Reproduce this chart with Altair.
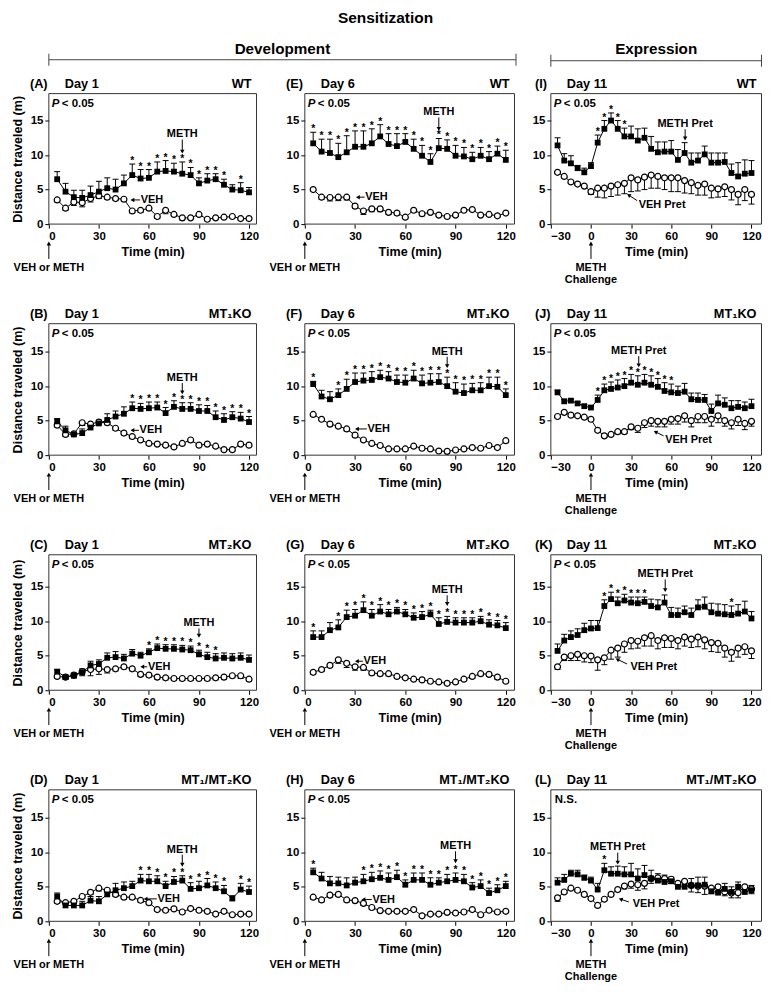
import math
import altair as alt
import pandas as pd

FONT = "Liberation Sans"
INK = "black"
FRAME = "#333333"

# ---------------- time points and ticks ----------------
T_DEV = [5, 10, 15, 20, 25, 30, 35, 40, 45, 50, 55, 60, 65, 70, 75, 80, 85, 90, 95, 100, 105, 110, 115, 120]
T_EXP = [-25, -20, -15, -10, -5, 0, 5, 10, 15, 20, 25, 30, 35, 40, 45, 50, 55, 60, 65, 70, 75, 80, 85, 90, 95, 100, 105, 110, 115, 120]
DEV_TICKS = [0, 30, 60, 90, 120]
EXP_TICKS = [-30, 0, 30, 60, 90, 120]
Y_TICKS = [0, 5, 10, 15]

# ---------------- data (mean, one-sided SEM) ----------------
A_METH = [6.5, 4.7, 3.9, 3.8, 4.2, 4.7, 5.2, 5.0, 5.9, 7.1, 6.6, 6.7, 7.6, 7.7, 7.6, 7.3, 7.1, 5.9, 6.3, 6.5, 5.7, 5.0, 4.9, 4.6]
A_METH_ERR = [1.1, 1.2, 1.0, 1.1, 1.3, 1.5, 1.5, 1.5, 1.2, 1.6, 1.3, 1.2, 1.4, 1.5, 1.2, 1.7, 1.1, 0.8, 1.0, 0.8, 0.8, 0.7, 1.1, 0.7]
A_VEH = [3.5, 2.3, 3.2, 3.1, 3.7, 4.1, 3.9, 3.7, 3.6, 1.9, 2.0, 2.3, 1.1, 2.0, 1.4, 0.9, 0.9, 1.4, 0.7, 0.9, 1.0, 1.1, 0.8, 0.8]
A_VEH_ERR = [0.3, 0.3, 0.5, 0.6, 0.5, 0.4, 0.3, 0.3, 0.3, 0.3, 0.3, 0.3, 0.3, 0.5, 0.3, 0.3, 0.2, 0.3, 0.2, 0.2, 0.2, 0.2, 0.2, 0.2]
A_STARS = [50, 55, 60, 65, 70, 75, 80, 85, 90, 95, 100, 105, 115]

E_METH = [11.7, 10.5, 10.3, 9.7, 10.4, 11.2, 11.2, 11.7, 12.7, 11.6, 11.3, 11.9, 10.9, 9.9, 9.0, 11.0, 10.9, 9.9, 9.8, 9.4, 9.9, 9.4, 10.2, 9.3]
E_METH_ERR = [1.6, 1.8, 2.0, 2.0, 2.4, 2.3, 2.3, 2.1, 1.7, 1.5, 1.8, 1.2, 1.4, 1.5, 1.2, 1.4, 1.3, 1.5, 1.3, 1.0, 1.2, 1.1, 1.1, 1.4]
E_VEH = [5.0, 3.9, 3.85, 3.9, 3.9, 2.6, 1.9, 2.2, 2.2, 1.7, 1.6, 1.0, 2.0, 1.5, 1.7, 1.3, 1.1, 1.3, 2.0, 2.1, 1.3, 1.4, 1.2, 1.6]
E_VEH_ERR = [0.2, 0.3, 0.5, 0.5, 0.4, 0.3, 0.5, 0.4, 0.4, 0.3, 0.3, 0.2, 0.3, 0.3, 0.2, 0.2, 0.2, 0.2, 0.2, 0.2, 0.2, 0.2, 0.2, 0.2]
E_STARS = [5, 10, 15, 20, 25, 30, 35, 40, 45, 50, 55, 60, 65, 70, 75, 80, 85, 90, 95, 100, 105, 110, 115, 120]

I_METH = [11.4, 9.2, 8.8, 8.1, 7.5, 8.4, 11.8, 13.8, 15.0, 13.8, 12.7, 12.7, 12.1, 12.5, 10.9, 10.4, 10.5, 10.5, 9.3, 10.3, 8.9, 9.2, 10.1, 8.9, 8.9, 9.0, 7.4, 6.9, 7.3, 7.4]
I_METH_ERR = [1.1, 1.0, 1.1, 0.4, 0.6, 0.5, 1.1, 1.2, 1.1, 1.2, 1.2, 1.5, 1.7, 1.4, 1.8, 1.5, 1.4, 1.6, 1.5, 1.5, 1.4, 1.1, 1.2, 1.4, 1.4, 1.3, 1.3, 2.0, 2.0, 1.8]
I_VEH = [7.5, 6.9, 6.1, 5.8, 5.5, 4.7, 5.2, 5.2, 5.5, 5.7, 5.9, 6.7, 6.4, 6.8, 7.1, 6.9, 6.7, 6.7, 6.7, 6.3, 6.0, 5.6, 5.8, 5.2, 5.1, 5.4, 5.0, 4.3, 5.0, 4.3]
I_VEH_ERR = [0.2, 0.2, 0.2, 0.2, 0.2, 0.4, 1.3, 1.4, 1.5, 1.5, 1.5, 2.0, 1.6, 1.8, 1.9, 1.7, 1.7, 2.0, 2.0, 1.8, 1.6, 1.4, 1.6, 1.4, 1.2, 1.4, 1.5, 1.5, 1.6, 1.4]
I_STARS = [5, 10, 15, 20, 25]

B_METH = [4.9, 3.6, 3.0, 3.2, 4.0, 4.6, 5.1, 5.6, 6.0, 6.8, 6.7, 6.8, 6.9, 6.1, 7.0, 6.7, 6.7, 6.4, 6.4, 5.5, 5.1, 5.5, 5.3, 4.8]
B_METH_ERR = [0.4, 0.6, 0.3, 0.6, 0.4, 0.5, 0.9, 0.8, 1.0, 0.9, 0.8, 0.9, 0.8, 0.8, 0.9, 0.9, 0.9, 0.9, 0.8, 0.9, 0.9, 0.8, 0.9, 0.8]
B_VEH = [4.35, 3.0, 3.1, 4.7, 4.5, 4.8, 4.7, 3.9, 3.2, 2.7, 2.2, 1.7, 1.6, 1.45, 1.2, 1.7, 2.2, 1.45, 1.6, 1.3, 0.8, 0.8, 1.6, 1.45]
B_VEH_ERR = [0.3, 0.3, 0.3, 0.4, 0.3, 0.3, 0.3, 0.3, 0.3, 0.3, 0.2, 0.2, 0.2, 0.2, 0.2, 0.2, 0.3, 0.2, 0.2, 0.2, 0.2, 0.2, 0.2, 0.2]
B_STARS = [50, 55, 60, 65, 70, 75, 80, 85, 90, 95, 100, 105, 110, 115, 120]

F_METH = [10.3, 8.5, 8.1, 8.7, 9.6, 10.6, 10.8, 10.9, 11.3, 11.1, 10.6, 10.5, 11.1, 10.4, 10.5, 10.6, 10.0, 9.2, 9.0, 9.4, 9.4, 10.0, 9.9, 8.7]
F_METH_ERR = [0.4, 0.9, 1.1, 0.9, 1.4, 1.3, 1.1, 1.2, 1.0, 1.0, 1.0, 1.1, 1.2, 1.2, 1.3, 1.2, 1.3, 1.3, 1.3, 1.0, 1.1, 1.3, 1.4, 0.9]
F_VEH = [5.9, 5.2, 4.5, 4.2, 3.8, 2.9, 2.2, 1.7, 1.4, 0.9, 0.9, 0.9, 1.3, 1.0, 0.9, 0.6, 0.55, 0.75, 0.9, 1.1, 1.0, 1.4, 1.1, 2.1]
F_VEH_ERR = [0.2, 0.2, 0.3, 0.2, 0.3, 0.3, 0.2, 0.2, 0.2, 0.2, 0.2, 0.2, 0.2, 0.2, 0.2, 0.2, 0.2, 0.2, 0.2, 0.2, 0.2, 0.2, 0.2, 0.3]
F_STARS = [5, 20, 25, 30, 35, 40, 45, 50, 55, 60, 65, 70, 75, 80, 85, 90, 95, 100, 105, 110, 115, 120]

J_METH = [9.1, 7.8, 7.9, 7.5, 7.1, 6.9, 8.0, 9.4, 9.6, 9.8, 10.0, 10.5, 10.2, 10.5, 10.2, 9.9, 9.3, 9.1, 9.0, 9.2, 8.1, 8.0, 8.0, 6.4, 7.5, 7.3, 6.8, 7.0, 6.8, 7.1]
J_METH_ERR = [0.3, 0.3, 0.2, 0.2, 0.2, 0.2, 0.7, 0.9, 1.0, 1.1, 1.1, 1.2, 1.3, 1.2, 1.3, 1.2, 1.2, 1.2, 1.0, 1.2, 0.9, 1.0, 0.8, 1.0, 1.2, 1.0, 1.1, 0.9, 0.9, 1.0]
J_VEH = [5.6, 6.2, 5.8, 5.7, 5.5, 5.2, 3.6, 2.8, 3.0, 3.4, 3.4, 4.1, 3.9, 4.7, 5.0, 4.9, 4.9, 5.2, 5.3, 5.7, 5.0, 5.6, 5.6, 5.2, 5.7, 5.0, 4.7, 5.2, 4.6, 4.9]
J_VEH_ERR = [0.2, 0.2, 0.2, 0.2, 0.2, 0.2, 0.2, 0.2, 0.2, 0.3, 0.3, 0.4, 0.6, 0.7, 0.8, 0.8, 0.8, 0.7, 0.8, 0.9, 0.9, 0.9, 0.9, 1.0, 1.0, 0.8, 0.9, 0.9, 0.9, 0.7]
J_STARS = [5, 10, 15, 20, 25, 30, 35, 40, 45, 50, 55, 60]

C_METH = [2.7, 1.9, 2.1, 2.6, 3.6, 3.8, 4.7, 4.8, 4.6, 5.3, 5.0, 5.5, 6.1, 6.0, 6.0, 5.9, 5.8, 5.2, 4.8, 4.6, 4.7, 4.6, 4.7, 4.4]
C_METH_ERR = [0.3, 0.3, 0.4, 0.5, 0.6, 0.6, 0.7, 0.8, 0.6, 0.6, 0.5, 0.5, 0.6, 0.6, 0.6, 0.6, 0.6, 0.6, 0.7, 0.7, 0.7, 0.7, 0.7, 0.7]
C_VEH = [2.0, 1.9, 2.2, 2.7, 3.0, 3.1, 3.0, 3.1, 3.4, 3.1, 2.3, 2.2, 1.9, 1.8, 1.7, 1.7, 1.7, 1.7, 1.7, 1.8, 1.9, 2.1, 2.1, 1.6]
C_VEH_ERR = [0.3, 0.3, 0.4, 0.6, 0.9, 0.8, 0.5, 0.3, 0.3, 0.3, 0.3, 0.3, 0.3, 0.3, 0.3, 0.3, 0.3, 0.3, 0.3, 0.3, 0.3, 0.3, 0.4, 0.3]
C_STARS = [60, 65, 70, 75, 80, 85, 90, 95, 100]

G_METH = [7.7, 7.7, 8.7, 9.1, 10.6, 10.8, 11.6, 10.8, 11.4, 11.0, 11.4, 11.0, 10.5, 10.6, 11.0, 9.6, 9.9, 9.8, 9.8, 9.8, 10.0, 9.5, 9.4, 9.0]
G_METH_ERR = [0.9, 0.9, 1.1, 1.1, 1.0, 0.9, 1.2, 0.9, 1.0, 0.7, 0.6, 0.7, 0.7, 0.8, 0.6, 0.9, 0.8, 0.7, 0.7, 0.7, 0.7, 0.7, 0.7, 0.8]
G_VEH = [2.6, 3.0, 3.6, 4.4, 3.9, 3.4, 3.3, 2.5, 2.4, 2.4, 2.0, 1.8, 1.6, 1.5, 1.3, 1.2, 1.0, 1.2, 1.6, 2.0, 2.4, 2.3, 1.9, 1.3]
G_VEH_ERR = [0.3, 0.3, 0.3, 0.5, 0.6, 0.5, 0.4, 0.3, 0.3, 0.3, 0.3, 0.2, 0.2, 0.2, 0.2, 0.2, 0.2, 0.2, 0.2, 0.3, 0.3, 0.3, 0.3, 0.2]
G_STARS = [5, 20, 25, 30, 35, 40, 45, 50, 55, 60, 65, 70, 75, 80, 85, 90, 95, 100, 105, 110, 115, 120]

K_METH = [5.7, 7.2, 7.7, 8.0, 8.7, 8.95, 9.0, 12.2, 13.2, 12.6, 13.0, 12.7, 12.6, 12.8, 12.2, 12.0, 12.7, 10.9, 10.9, 11.3, 10.9, 12.0, 12.1, 11.3, 11.1, 11.0, 10.9, 11.1, 11.4, 10.4]
K_METH_ERR = [1.0, 0.9, 0.9, 0.9, 1.0, 1.15, 1.1, 0.9, 1.0, 0.9, 0.9, 0.8, 0.9, 0.7, 1.0, 1.1, 1.1, 1.1, 1.0, 0.9, 1.0, 1.1, 1.4, 1.3, 1.4, 1.4, 1.3, 1.3, 1.5, 1.0]
K_VEH = [3.4, 4.8, 5.0, 5.2, 5.0, 4.95, 4.4, 4.7, 5.8, 6.1, 6.7, 7.2, 7.1, 7.6, 7.9, 7.2, 7.6, 7.5, 7.2, 7.7, 7.4, 7.7, 7.3, 6.9, 6.8, 6.1, 5.5, 6.1, 6.3, 5.7]
K_VEH_ERR = [0.4, 0.5, 0.7, 0.9, 0.9, 0.95, 1.5, 1.0, 1.3, 1.3, 1.2, 1.2, 1.0, 1.2, 1.5, 1.2, 1.4, 1.3, 1.2, 1.3, 1.2, 1.4, 1.3, 1.3, 1.3, 1.3, 1.3, 1.3, 1.1, 1.1]
K_STARS = [10, 15, 20, 25, 30, 35, 40, 105]

D_METH = [3.6, 2.3, 2.3, 2.3, 3.0, 2.9, 3.9, 4.5, 4.8, 5.1, 5.9, 5.8, 5.8, 5.1, 5.7, 5.9, 4.7, 4.8, 5.2, 4.8, 4.35, 3.3, 4.6, 4.25]
D_METH_ERR = [0.5, 0.6, 0.6, 0.6, 0.6, 0.7, 0.7, 1.0, 0.9, 0.7, 0.9, 1.0, 0.8, 0.7, 0.8, 0.7, 0.9, 1.0, 1.0, 0.9, 0.85, 0.4, 0.9, 0.85]
D_VEH = [2.9, 2.7, 2.9, 3.6, 4.2, 4.8, 4.5, 3.9, 3.5, 3.5, 3.05, 2.7, 1.7, 1.6, 1.8, 1.35, 1.85, 1.6, 1.45, 1.05, 1.45, 0.95, 1.05, 1.05]
D_VEH_ERR = [0.3, 0.3, 0.3, 0.3, 0.3, 0.4, 0.3, 0.3, 0.3, 0.3, 0.3, 0.3, 0.2, 0.2, 0.2, 0.2, 0.2, 0.2, 0.2, 0.2, 0.2, 0.2, 0.2, 0.2]
D_STARS = [55, 60, 65, 70, 75, 80, 85, 90, 95, 100, 105, 115, 120]

H_METH = [7.1, 6.2, 5.5, 5.5, 5.2, 5.6, 5.8, 6.1, 6.3, 6.0, 6.4, 5.3, 6.0, 6.0, 5.3, 5.6, 5.8, 6.0, 5.8, 4.9, 5.1, 4.1, 4.5, 5.1]
H_METH_ERR = [0.6, 0.9, 1.0, 0.9, 1.1, 0.8, 1.0, 1.0, 1.0, 1.0, 1.0, 0.7, 1.0, 1.0, 1.0, 0.7, 1.0, 1.0, 1.0, 0.7, 0.9, 0.7, 0.8, 0.7]
H_VEH = [3.5, 3.1, 3.8, 3.9, 3.1, 3.0, 2.6, 2.0, 1.55, 1.45, 1.45, 1.45, 1.7, 0.8, 1.05, 1.05, 1.3, 1.2, 1.35, 1.7, 0.95, 1.6, 1.35, 1.45]
H_VEH_ERR = [0.3, 0.3, 0.3, 0.3, 0.3, 0.3, 0.3, 0.3, 0.2, 0.2, 0.2, 0.2, 0.2, 0.2, 0.2, 0.2, 0.2, 0.2, 0.2, 0.2, 0.2, 0.2, 0.2, 0.2]
H_STARS = [5, 35, 40, 45, 50, 55, 60, 65, 70, 75, 80, 85, 90, 95, 100, 105, 110, 115, 120]

L_METH = [5.6, 6.0, 6.9, 6.8, 6.3, 5.9, 4.6, 7.4, 6.9, 6.9, 6.8, 6.8, 6.2, 6.7, 6.2, 5.9, 5.7, 5.8, 5.0, 5.0, 5.2, 5.2, 5.3, 4.35, 4.15, 4.7, 4.25, 5.0, 4.25, 4.5]
L_METH_ERR = [0.7, 0.8, 0.5, 0.6, 0.4, 0.5, 0.9, 1.0, 1.0, 1.1, 1.1, 1.6, 1.4, 1.4, 1.2, 1.0, 1.0, 0.6, 0.7, 0.7, 1.0, 1.2, 1.1, 0.65, 0.65, 0.8, 0.75, 0.7, 0.95, 0.7]
L_VEH = [3.4, 4.25, 4.8, 4.5, 3.9, 3.3, 2.3, 3.2, 3.9, 4.6, 5.1, 5.4, 5.3, 5.5, 6.2, 6.3, 6.2, 6.1, 5.5, 5.8, 5.2, 5.1, 5.1, 4.8, 5.0, 4.25, 4.1, 4.15, 5.0, 4.7]
L_VEH_ERR = [0.5, 0.2, 0.2, 0.2, 0.2, 0.2, 0.2, 0.2, 0.2, 0.3, 0.4, 0.6, 0.8, 0.8, 0.7, 0.6, 0.6, 0.6, 0.5, 0.6, 0.95, 0.95, 1.2, 0.8, 0.75, 0.55, 0.7, 0.75, 0.65, 0.7]
L_STARS = [10]

# panel order: row-major (A E I / B F J / C G K / D H L)
PANELS = [
    ("A", "Day 1", "WT", A_METH, A_METH_ERR, A_VEH, A_VEH_ERR, A_STARS),
    ("E", "Day 6", "WT", E_METH, E_METH_ERR, E_VEH, E_VEH_ERR, E_STARS),
    ("I", "Day 11", "WT", I_METH, I_METH_ERR, I_VEH, I_VEH_ERR, I_STARS),
    ("B", "Day 1", "MT\u2081KO", B_METH, B_METH_ERR, B_VEH, B_VEH_ERR, B_STARS),
    ("F", "Day 6", "MT\u2081KO", F_METH, F_METH_ERR, F_VEH, F_VEH_ERR, F_STARS),
    ("J", "Day 11", "MT\u2081KO", J_METH, J_METH_ERR, J_VEH, J_VEH_ERR, J_STARS),
    ("C", "Day 1", "MT\u2082KO", C_METH, C_METH_ERR, C_VEH, C_VEH_ERR, C_STARS),
    ("G", "Day 6", "MT\u2082KO", G_METH, G_METH_ERR, G_VEH, G_VEH_ERR, G_STARS),
    ("K", "Day 11", "MT\u2082KO", K_METH, K_METH_ERR, K_VEH, K_VEH_ERR, K_STARS),
    ("D", "Day 1", "MT\u2081/MT\u2082KO", D_METH, D_METH_ERR, D_VEH, D_VEH_ERR, D_STARS),
    ("H", "Day 6", "MT\u2081/MT\u2082KO", H_METH, H_METH_ERR, H_VEH, H_VEH_ERR, H_STARS),
    ("L", "Day 11", "MT\u2081/MT\u2082KO", L_METH, L_METH_ERR, L_VEH, L_VEH_ERR, L_STARS),
]

# annotation anchors (data units): METH label (x, text y, arrow tip y)
METH_NOTE = {"A": (80, 13.0, 10.2), "E": (80, 16.2, 13.5), "B": (80, 11.2, 8.8), "F": (85, 15.0, 12.6),
             "C": (90, 9.7, 7.6), "G": (85, 14.5, 12.2), "D": (80, 10.4, 7.9), "H": (90, 10.9, 8.4),
             "I": (70.4, 14.5, 12.1), "J": (35.7, 15.1, 12.7), "K": (55.5, 16.8, 14.2), "L": (20.0, 10.7, 8.2)}
# VEH label (arrow tip x, arrow tail x, y)
VEH_NOTE = {"A": (48.8, 54.7, 3.5), "E": (30.4, 35.7, 3.9), "B": (48.8, 54.0, 3.6), "F": (29.8, 37.0, 3.8),
            "C": (54.7, 59.0, 3.4), "G": (29.8, 34.7, 4.2), "D": (56.7, 64.7, 3.25), "H": (33.7, 40.0, 3.15)}
# VEH Pret label (tip x, tip y, tail x, tail y, text x, text y)
PRET_NOTE = {"I": (27.0, 4.35, 34.5, 3.4, 35.7, 2.8), "J": (46.9, 3.5, 54.3, 2.8, 55.5, 2.2),
             "K": (18.4, 4.6, 27.0, 3.8, 29.5, 3.3), "L": (20.8, 3.3, 28.3, 2.8, 31.2, 2.56)}

# ---------------- layout ----------------
FRAME_W = [208.5, 210.5, 211.5]
LAYOUT_W = [220.5, 210.5, 211.5]
X_DOMAIN = [[0, 124.5], [0, 125.2], [-30, 127.5]]
ROW_H = [131, 132, 136, 132]
PXY = 6.93


def txt(s, size=11, **kw):
    return dict(text=s, font=FONT, fontSize=size, fontWeight="bold", color=INK, **kw)


ONE = pd.DataFrame({"k": [0]})


def build_panel(idx, spec):
    key, day, geno, meth, meth_err, veh, veh_err, stars = spec
    row, col = divmod(idx, 3)
    exp = col == 2
    T = T_EXP if exp else T_DEV
    assert len(meth) == len(T) == len(veh) == len(meth_err) == len(veh_err), key
    H = ROW_H[row]
    fw = FRAME_W[col]
    xs = alt.Scale(domain=X_DOMAIN[col], range=[0, fw], nice=False, zero=False)
    ys = alt.Scale(domain=[0, H / PXY], nice=False, zero=False)
    xa = alt.Axis(values=EXP_TICKS if exp else DEV_TICKS, title="Time (min)")
    if col == 0:
        ya = alt.Axis(values=Y_TICKS, title="Distance traveled (m)")
    else:
        ya = alt.Axis(values=Y_TICKS, title=None)
    pxx = fw / (X_DOMAIN[col][1] - X_DOMAIN[col][0])

    def X(f="t"):
        return alt.X(f"{f}:Q", scale=xs, axis=xa)

    def Y(f="v"):
        return alt.Y(f"{f}:Q", scale=ys, axis=ya)

    mdf = pd.DataFrame({"t": T, "v": meth, "hi": [m + e for m, e in zip(meth, meth_err)]})
    vdf = pd.DataFrame({"t": T, "v": veh, "lo": [m - e for m, e in zip(veh, veh_err)]})
    sdf = mdf[mdf["t"].isin(stars)]
    ldf = pd.concat([mdf.assign(s="METH"), vdf.assign(s="VEH")])

    layers = []
    # frame
    layers.append(alt.Chart(ONE).mark_rect(fillOpacity=0, stroke=FRAME, strokeWidth=1).encode(
        x=alt.value(0), x2=alt.value(fw), y=alt.value(0), y2=alt.value(H)))
    # error bars
    layers.append(alt.Chart(mdf).mark_rule(color=INK, strokeWidth=1).encode(x=X(), y=Y("v"), y2="hi:Q"))
    layers.append(alt.Chart(mdf).mark_tick(orient="horizontal", size=6, thickness=1, color=INK, opacity=1).encode(x=X(), y=Y("hi")))
    layers.append(alt.Chart(vdf).mark_rule(color=INK, strokeWidth=1).encode(x=X(), y=Y("v"), y2="lo:Q"))
    layers.append(alt.Chart(vdf).mark_tick(orient="horizontal", size=6, thickness=1, color=INK, opacity=1).encode(x=X(), y=Y("lo")))
    # lines
    layers.append(alt.Chart(ldf).mark_line(color=INK, strokeWidth=1).encode(x=X(), y=Y("v"), detail="s:N"))
    # points
    layers.append(alt.Chart(vdf).mark_point(shape="circle", filled=True, fill="white", stroke=INK,
                                             strokeWidth=1.2, size=36, opacity=1).encode(x=X(), y=Y("v")))
    layers.append(alt.Chart(mdf).mark_point(shape="square", filled=True, color=INK, size=34,
                                             opacity=1).encode(x=X(), y=Y("v")))
    # significance stars
    layers.append(alt.Chart(sdf).mark_text(**txt("*", 10.5, baseline="alphabetic", dy=0)).encode(x=X(), y=Y("hi")))

    # METH label with down arrow
    mx, mty, mtip = METH_NOTE[key]
    mlabel = "METH Pret" if exp else "METH"
    layers.append(alt.Chart(pd.DataFrame({"t": [mx], "v": [mty]})).mark_text(**txt(mlabel, 11, baseline="middle")).encode(x=X(), y=Y()))
    layers.append(alt.Chart(pd.DataFrame({"t": [mx], "v": [mty - 0.75], "v2": [mtip + 0.4]})).mark_rule(color=INK, strokeWidth=1).encode(
        x=X(), y=Y(), y2="v2:Q"))
    layers.append(alt.Chart(pd.DataFrame({"t": [mx], "v": [mtip + 0.3]})).mark_point(
        shape="triangle-down", filled=True, color=INK, size=20, opacity=1).encode(x=X(), y=Y()))

    if not exp:
        tip, tail, vy = VEH_NOTE[key]
        layers.append(alt.Chart(pd.DataFrame({"t": [tip + 1.2], "t2": [tail], "v": [vy]})).mark_rule(color=INK, strokeWidth=1).encode(
            x=X(), x2="t2:Q", y=Y()))
        layers.append(alt.Chart(pd.DataFrame({"t": [tip + 1.3], "v": [vy]})).mark_point(
            shape="triangle-left", filled=True, color=INK, size=20, opacity=1).encode(x=X(), y=Y()))
        layers.append(alt.Chart(pd.DataFrame({"t": [tail + 0.4], "v": [vy]})).mark_text(
            **txt("VEH", 11, align="left", baseline="middle")).encode(x=X(), y=Y()))
    else:
        tx, ty, lx, ly, sx, sy = PRET_NOTE[key]
        dxp = (tx - lx) * pxx
        dyp = -(ty - ly) * PXY
        ang = math.degrees(math.atan2(dxp, -dyp)) % 360
        ln = math.hypot(dxp, dyp)
        hx = tx - (dxp / ln) * 2.0 / pxx
        hy = ty + (dyp / ln) * 2.0 / PXY
        layers.append(alt.Chart(pd.DataFrame({"t": [lx], "v": [ly], "t2": [hx], "v2": [hy]})).mark_rule(color=INK, strokeWidth=1).encode(
            x=X(), y=Y(), x2="t2:Q", y2="v2:Q"))
        layers.append(alt.Chart(pd.DataFrame({"t": [hx], "v": [hy]})).mark_point(
            shape="triangle-up", filled=True, color=INK, size=20, opacity=1, angle=ang).encode(x=X(), y=Y()))
        layers.append(alt.Chart(pd.DataFrame({"t": [sx], "v": [sy]})).mark_text(
            **txt("VEH Pret", 11, align="left", baseline="middle")).encode(x=X(), y=Y()))

    # significance note
    if key == "L":
        layers.append(alt.Chart(ONE).mark_text(**txt("N.S.", 11.5, align="left", baseline="middle")).encode(
            x=alt.value(4), y=alt.value(10)))
    else:
        layers.append(alt.Chart(ONE).mark_text(**txt("P", 11.5, align="left", baseline="middle", fontStyle="italic")).encode(
            x=alt.value(3), y=alt.value(10)))
        layers.append(alt.Chart(ONE).mark_text(**txt("< 0.05", 11.5, align="left", baseline="middle")).encode(
            x=alt.value(13), y=alt.value(10)))

    # panel header
    layers.append(alt.Chart(ONE).mark_text(**txt(f"({key})", 12.8, align="left", baseline="middle")).encode(
        x=alt.value(-16 if exp else -19), y=alt.value(-10)))
    layers.append(alt.Chart(ONE).mark_text(**txt(day, 12.8, align="left", baseline="middle")).encode(
        x=alt.value(16), y=alt.value(-10)))
    layers.append(alt.Chart(ONE).mark_text(**txt(geno, 12.8, align="right", baseline="middle")).encode(
        x=alt.value(fw - 5), y=alt.value(-10)))

    # injection arrow under the x axis
    zero = pd.DataFrame({"t": [0]})
    layers.append(alt.Chart(zero).mark_rule(color=INK, strokeWidth=1).encode(x=X(), y=alt.value(H + 21), y2=alt.value(H + 35)))
    layers.append(alt.Chart(zero).mark_point(shape="triangle-up", filled=True, color=INK, size=20, opacity=1).encode(
        x=X(), y=alt.value(H + 19.5)))
    if exp:
        layers.append(alt.Chart(zero).mark_text(**txt("METH", 11, baseline="middle")).encode(x=X(), y=alt.value(H + 44)))
        layers.append(alt.Chart(zero).mark_text(**txt("Challenge", 11, baseline="middle")).encode(x=X(), y=alt.value(H + 56)))
    else:
        layers.append(alt.Chart(zero).mark_text(**txt("VEH or METH", 11, baseline="middle")).encode(x=X(), y=alt.value(H + 44)))

    # column headers
    if idx == 0:
        bw = 469
        layers.append(alt.Chart(ONE).mark_rule(color="#444444", strokeWidth=1).encode(x=alt.value(0), x2=alt.value(bw), y=alt.value(-34)))
        for bx in (0, bw):
            layers.append(alt.Chart(ONE).mark_rule(color="#444444", strokeWidth=1).encode(x=alt.value(bx), y=alt.value(-40), y2=alt.value(-28)))
        layers.append(alt.Chart(ONE).mark_text(**txt("Development", 15.3, baseline="middle")).encode(x=alt.value(bw / 2), y=alt.value(-45)))
    if idx == 2:
        bw = fw
        layers.append(alt.Chart(ONE).mark_rule(color="#444444", strokeWidth=1).encode(x=alt.value(0), x2=alt.value(bw), y=alt.value(-33)))
        for bx in (0, bw):
            layers.append(alt.Chart(ONE).mark_rule(color="#444444", strokeWidth=1).encode(x=alt.value(bx), y=alt.value(-39), y2=alt.value(-27)))
        layers.append(alt.Chart(ONE).mark_text(**txt("Expression", 15.3, baseline="middle")).encode(x=alt.value(bw / 2), y=alt.value(-45)))
    if idx == 1:
        layers.append(alt.Chart(ONE).mark_text(**txt("Sensitization", 15.5, baseline="middle")).encode(x=alt.value(81), y=alt.value(-76)))

    return alt.layer(*layers).properties(width=LAYOUT_W[col], height=H)


panels = [build_panel(i, p) for i, p in enumerate(PANELS)]

chart = alt.concat(
    *panels, columns=3, spacing={"row": 100, "column": 36}, bounds="flush", align="each"
).resolve_scale(x="independent", y="independent").properties(
    padding={"left": 2, "top": 0, "right": 2, "bottom": 2}
).configure_view(stroke="transparent").configure_axis(
    labelFont=FONT, labelFontSize=11.5, labelFontWeight="bold", labelColor=INK,
    titleFont=FONT, titleFontSize=12.6, titleFontWeight="bold", titleColor=INK,
    tickColor=INK, tickSize=4, labelPadding=2, domain=False, grid=False,
).configure_axisX(titlePadding=4).configure_axisY(titlePadding=6)

chart.save("out.html", embed_options={"renderer": "svg", "actions": False})
